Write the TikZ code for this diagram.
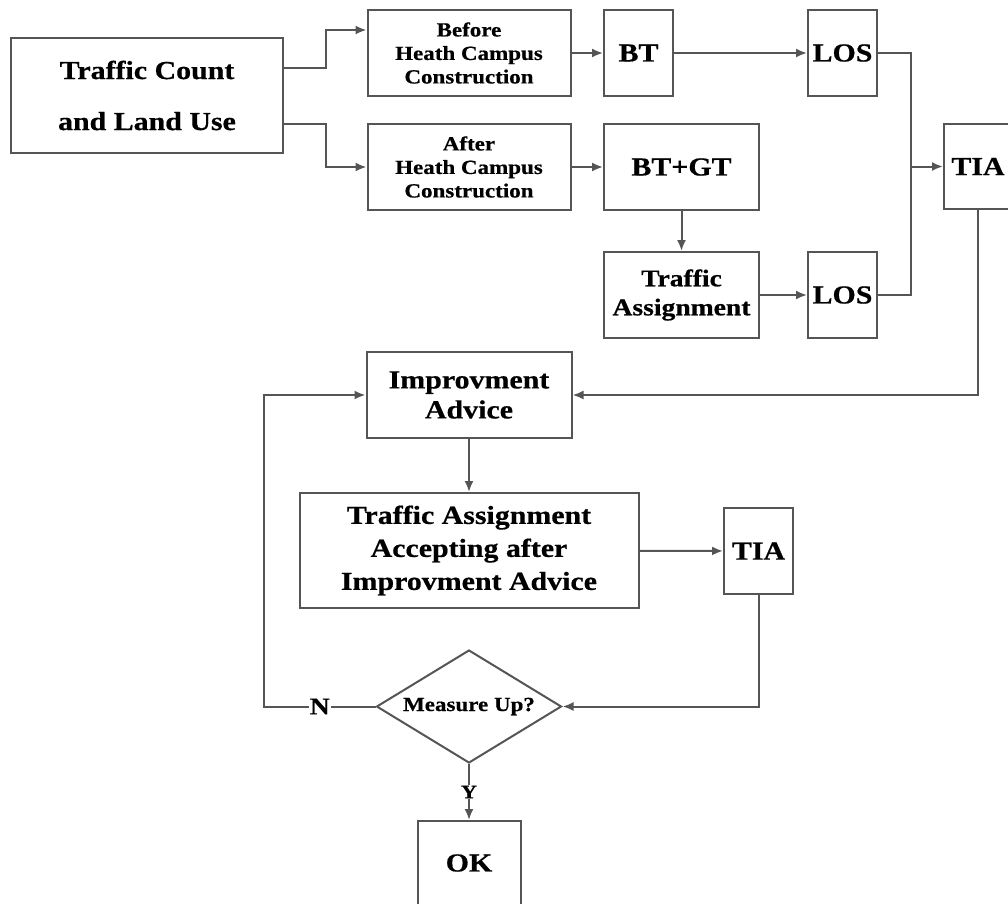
\documentclass[tikz,border=0pt]{standalone}
\usepackage{fontspec}
\setmainfont[FakeStretch=1.15,BoldFeatures={FakeBold=0.6}]{Liberation Serif}
\usetikzlibrary{shapes.geometric,arrows.meta}
\definecolor{linegray}{HTML}{555555}

\begin{document}
\begin{tikzpicture}[x=1pt,y=-1pt,
    box/.style={draw=linegray,line width=2pt,inner sep=0pt,align=center,
        font=\bfseries\fontsize{26}{30}\selectfont},
    smallbox/.style={box,font=\bfseries\fontsize{20}{23.5}\selectfont},
    line/.style={draw=linegray,line width=2pt},
    arr/.style={line,-{Latex[length=11pt,width=9pt]}},
    tag/.style={fill=white,inner sep=1pt}]
    \useasboundingbox (0,0) rectangle (1008,903);

    % Input box on the left
    \node[box,minimum width=272pt,minimum height=115pt,
        font=\bfseries\fontsize{26}{51}\selectfont] (tc) at (147,95.5) {Traffic Count\\and Land Use};

    % Before and after construction
    \node[smallbox,minimum width=203pt,minimum height=86pt] (before) at (469,53) {Before\\Heath Campus\\Construction};
    \node[smallbox,minimum width=203pt,minimum height=86pt] (after) at (469,167) {After\\Heath Campus\\Construction};

    % Trips and level of service
    \node[box,minimum width=69pt,minimum height=86pt] (bt) at (638.5,53) {BT};
    \node[box,minimum width=155pt,minimum height=86pt] (btgt) at (681.5,167) {BT+GT};
    \node[box,minimum width=155pt,minimum height=86pt,
        font=\bfseries\fontsize{24}{29}\selectfont] (ta) at (681.5,295) {Traffic\\Assignment};
    \node[box,minimum width=69pt,minimum height=86pt] (losA) at (842.5,53) {LOS};
    \node[box,minimum width=69pt,minimum height=86pt] (losB) at (842.5,295) {LOS};
    \node[box,minimum width=68pt,minimum height=85pt] (tiaA) at (978,166.5) {TIA};

    % Improvement loop
    \node[box,minimum width=205pt,minimum height=86pt] (imp) at (469,395) {Improvment\\Advice};
    \node[box,minimum width=339pt,minimum height=115pt,
        font=\bfseries\fontsize{26}{33}\selectfont] (taia) at (469,550.5) {Traffic Assignment\\Accepting after\\Improvment Advice};
    \node[box,minimum width=69pt,minimum height=86pt] (tiaB) at (758.5,551) {TIA};
    \node[box,diamond,aspect=1.64,minimum width=185pt,minimum height=113pt,
        font=\bfseries\fontsize{20}{24}\selectfont] (dec) at (469,706.5) {Measure Up?};
    \node[box,minimum width=103pt,minimum height=84pt] (ok) at (469,863) {OK};

    \coordinate (j) at (911,166.5);
    \coordinate (n) at (264,706.5);

    % Connectors
    \draw[arr] ([yshift=27.5pt]tc.east) -- ++(42,0) |- ([yshift=23pt]before.west);
    \draw[arr] ([yshift=-28.5pt]tc.east) -- ++(42,0) |- (after.west);
    \draw[arr] (before) -- (bt);
    \draw[arr] (bt) -- (losA);
    \draw[arr] (after) -- (btgt);
    \draw[arr] (btgt) -- (ta);
    \draw[arr] (ta) -- (losB);
    \draw[line] (losA.east) -| (j) |- (losB.east);
    \draw[arr] (j) -- (tiaA.west);
    \draw[arr] (tiaA.south) |- (imp.east);
    \draw[arr] (imp) -- (taia);
    \draw[arr] (taia) -- (tiaB);
    \draw[arr] (tiaB.south) |- (dec.east);
    \draw[arr] (dec.west) -- node[tag,font=\bfseries\fontsize{24}{26}\selectfont] {N} (n) |- (imp.west);
    \draw[arr] (dec.south) -- node[tag,font=\bfseries\fontsize{19}{21}\selectfont] {Y} (ok.north);
\end{tikzpicture}
\end{document}
